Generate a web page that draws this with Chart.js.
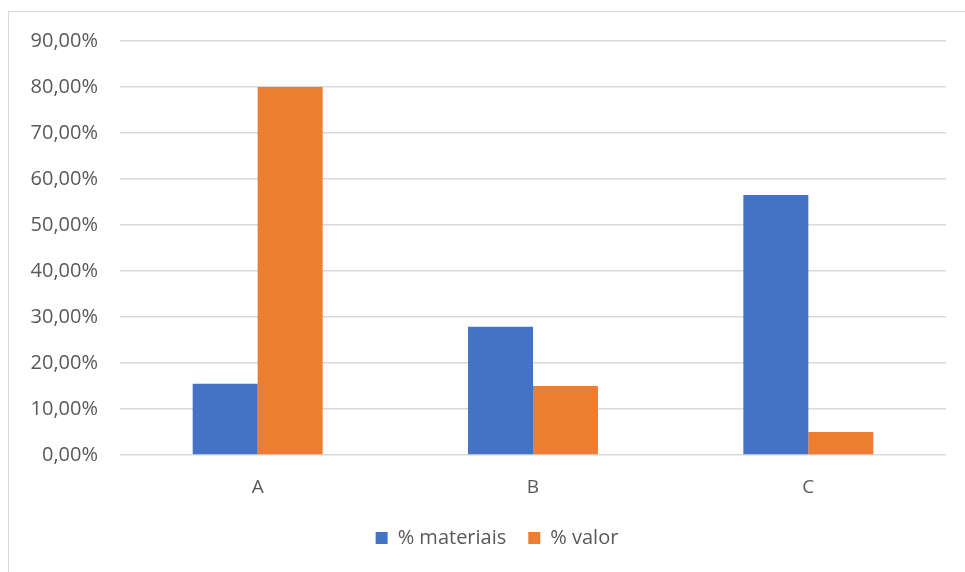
<!DOCTYPE html>
<html lang="pt">
<head>
  <meta charset="UTF-8">
  <title>% materiais / % valor</title>
  <script src="https://cdn.jsdelivr.net/npm/chart.js"></script>
  <style>
    body {
      margin: 0;
      padding: 0;
      background: #fff;
      overflow: hidden;
    }
    .frame {
      position: absolute;
      left: 8px;
      top: 11px;
      width: 1000px;
      height: 600px;
      border: 1px solid #d9d9d9;
    }
    .chart-container {
      position: absolute;
      left: 0;
      top: 0;
      width: 965px;
      height: 572px;
    }
  </style>
</head>
<body>
  <div class="frame"></div>
  <div class="chart-container">
    <canvas id="chart"></canvas>
  </div>

  <script>
    const categories = ["A", "B", "C"];
    const materiais = [0.155, 0.279, 0.565];
    const valor = [0.80, 0.15, 0.05];
    const yTicks = [0, 0.1, 0.2, 0.3, 0.4, 0.5, 0.6, 0.7, 0.8, 0.9];

    const fontFamily = "'Open Sans', sans-serif";
    const textColor = "#595959";

    function fmtPct(v) {
      return (v * 100).toFixed(2).replace(".", ",") + "%";
    }

    // centre the legend under the plot area, not the whole canvas
    const legendShift = {
      id: "legendShift",
      afterLayout(chart) {
        if (chart.legend) chart.legend.left += 48;
      }
    };

    new Chart(document.getElementById("chart"), {
      type: "bar",
      data: {
        labels: categories,
        datasets: [
          {
            label: "% materiais",
            data: materiais,
            backgroundColor: "#4472c4"
          },
          {
            label: "% valor",
            data: valor,
            backgroundColor: "#ed7d31"
          }
        ]
      },
      plugins: [legendShift],
      options: {
        responsive: true,
        maintainAspectRatio: false,
        animation: false,
        categoryPercentage: 0.472,
        barPercentage: 1,
        layout: {
          padding: { left: 0, right: 19, top: 41, bottom: 14 }
        },
        plugins: {
          tooltip: { enabled: false },
          legend: {
            position: "bottom",
            labels: {
              color: textColor,
              font: { family: fontFamily, size: 20 },
              boxWidth: 12,
              boxHeight: 12,
              padding: 22
            }
          }
        },
        scales: {
          x: {
            grid: { display: false },
            border: { display: false },
            ticks: {
              color: textColor,
              font: { family: fontFamily, size: 19 },
              padding: 13
            },
            afterFit: scale => { scale.height = 51; }
          },
          y: {
            min: 0,
            max: 0.9,
            afterBuildTicks: scale => {
              scale.ticks = yTicks.map(v => ({ value: v }));
            },
            border: { display: false },
            grid: {
              color: "#d9d9d9",
              lineWidth: 1.5,
              drawTicks: false
            },
            ticks: {
              color: textColor,
              font: { family: fontFamily, size: 20 },
              padding: 22,
              callback: v => fmtPct(v)
            },
            afterFit: scale => { scale.width = 120; }
          }
        }
      }
    });
  </script>
</body>
</html>
